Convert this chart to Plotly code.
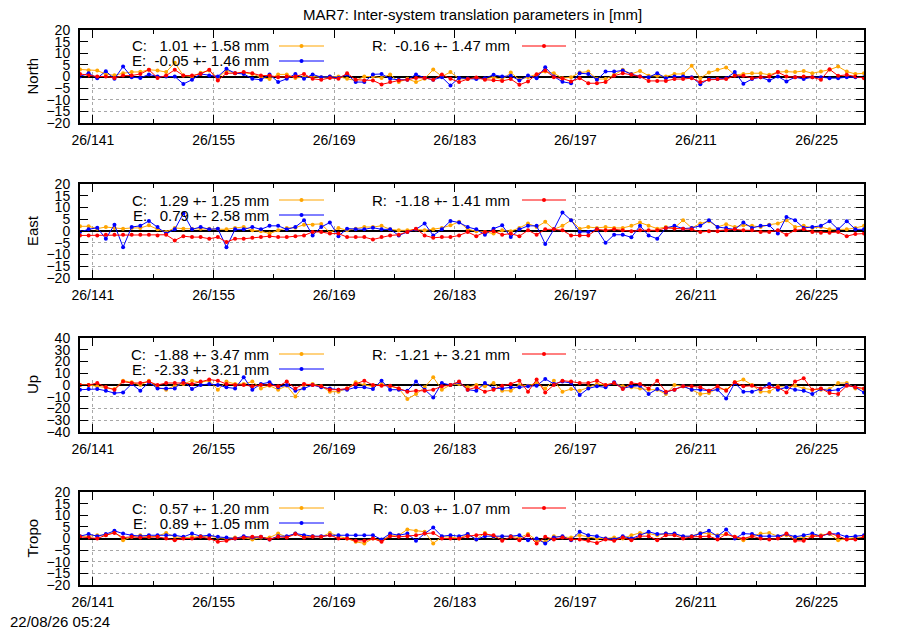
import plotly.graph_objects as go

# one epoch per day (noon), doy 139..230 of 2026
EPOCH = [d + 0.5 for d in range(139, 231)]
TICK_DOY = [141, 155, 169, 183, 197, 211, 225]
TICK_TEXT = ["26/141", "26/155", "26/169", "26/183", "26/197", "26/211", "26/225"]

PANELS = ["North", "East", "Up", "Tropo"]
YLIM = [20, 20, 40, 20]

# ---- translation parameters [mm] ----
NORTH_C = [3.0, 2.7, 2.6, 1.0, 0.5, 1.4, 1.9, 2.0, 2.9, 2.6, 1.9, 5.9, 0.4, 0.0, 1.6, 2.6, -0.6, 2.6, 1.4, 1.6,
           1.1, -0.3, -1.1, 0.9, 0.9, -0.6, -0.3, 0.0, -0.3, 0.0, 0.0, -1.0, -1.7, 0.0, 0.0, -0.6, 0.9, -2.4, -1.0, -2.4,
           -1.0, 3.0, 0.0, 1.9, -1.0,
           -1.1, -0.6, -1.1, -0.3, -1.4, 1.7, -1.4, -0.3, 0.7, 2.1, 1.4, -0.7, -0.3, 1.7, 2.1, -1.1, -1.1, 0.7, 2.9, 1.1,
           2.4, 0.3, 0.3, 0.0, 1.1, 1.1, 4.6, -0.7, 1.7, 2.9, 3.9, 0.7, 1.1, 1.4, 1.4, 0.7, 1.9, 2.1, 1.9, 2.4,
           1.4, 2.1, 2.9, 4.3, 2.1, 1.1, 1.4]
NORTH_E = [0.0, 1.4, -0.7, 2.3, -1.0, 4.3, -0.3, -0.6, 0.9, 0.0, 0.0, 0.0, -3.2, -1.4, 1.1, 0.4, 0.0, 3.3, 1.4, 1.1,
           -1.0, -1.4, 0.9, -2.4, -1.0, 1.1, -1.0, 0.9, -0.3, 0.0, -0.6, 0.9, -2.4, -2.4, 0.9, 1.1, -1.0, -1.4, -1.4, 0.9,
           -0.6, -1.4, -0.3, -3.9, -0.6,
           -0.9, -1.1, -0.7, 0.7, 0.0, 0.3, -1.7, 0.4, -0.7, 4.0, 0.0, -2.3, -2.9, 1.4, 1.1, -1.4, 2.1, 2.1, 2.6, 1.0,
           0.0, -0.3, 1.4, -0.7, 0.0, 0.0, -0.3, -3.3, -1.1, -1.1, -0.7, 1.9, -3.1, -1.1, -0.3, -1.7, 0.0, -2.1, -0.3, -1.1,
           -0.3, -0.3, -0.7, -0.7, -0.3, -0.3, -0.3]
NORTH_R = [1.1, 0.4, 0.0, 0.0, -0.6, 0.4, 0.4, 1.1, 2.9, -0.6, 0.4, 2.9, 0.4, 0.4, 1.1, 2.9, -1.7, 1.4, 1.4, 1.9,
           1.4, 0.4, 0.4, -0.3, 0.0, 0.0, 1.1, -1.0, -1.4, -0.6, -1.0, 1.4, -1.4, -1.7, -1.7, -3.4, -2.4, -1.7, -1.4, -0.6,
           -0.6, -1.4, 0.9, -1.0, -2.4,
           -1.1, -0.4, -1.4, -1.6, -1.9, -1.1, -3.6, -2.1, 1.0, 2.6, -0.3, -0.9, -2.1, -0.7, -2.9, -2.9, -2.4, 0.3, 1.4, 0.7,
           0.0, -1.9, -1.9, -1.9, -1.1, -1.1, -0.7, -2.4, -1.4, -1.1, -1.1, 0.3, 0.3, -0.7, -0.3, 0.0, 1.9, 0.0, -0.3, 0.0,
           -0.3, -1.4, 3.1, 0.3, 0.7, 0.0, -0.7]

EAST_C = [2.0, 2.0, 1.0, 1.7, 1.3, 1.0, 1.3, 1.3, 2.4, 0.7, -0.4, 1.3, 1.0, 1.0, 1.0, 1.0, 1.0, 0.7, 1.3, 1.7,
          0.3, -0.1, -1.1, 0.3, 1.3, 1.4, 2.7, 2.7, 3.0, -0.7, 1.3, 0.3, 1.0, 1.7, 1.7, 2.2, 0.7, 0.3, 0.3, 0.7,
          0.3, 0.7, 1.3, 2.4, 3.9,
          0.7, -0.1, -0.4, -1.1, 0.3, -0.1, 1.3, 3.2, 1.7, 3.9, 0.7, 2.2, 4.6, 1.0, 1.7, 1.3, 1.7, 1.3, 1.3, 2.2,
          3.6, 2.2, 1.0, 1.7, 1.3, 4.6, 1.3, 3.2, 4.2, 1.7, 2.9, 1.7, 2.4, 2.2, 1.7, 2.7, 3.2, 4.6, 1.7, 2.2,
          1.3, 1.7, 0.7, 0.7, 0.7, 1.3, 2.2]
EAST_E = [-0.4, 0.7, 1.4, -3.3, 2.7, -6.9, 1.7, 2.2, 4.3, 1.7, -1.1, 0.7, 7.5, 0.7, 1.7, 0.7, 1.0, -6.9, 0.7, 0.7,
          1.7, 0.7, 2.2, 2.2, 0.7, 1.7, 4.6, -1.9, 1.7, 3.6, -2.2, 1.0, 0.7, 0.7, 1.4, 0.7, 0.7, -1.9, -0.4, 0.7,
          3.2, -1.9, 0.7, 4.3, 3.6,
          1.7, 0.7, -1.6, 1.0, 2.4, -2.6, 0.7, 2.2, 2.2, -5.5, 0.7, 7.9, 4.6, -0.4, -0.4, 0.7, -5.0, -1.6, -1.6, -2.7,
          2.2, -1.9, -3.3, 1.3, 2.2, 1.0, 1.3, 2.2, 4.6, 1.7, 1.3, 0.7, 3.6, 1.3, 2.2, 2.4, -1.1, 6.0, 4.6, 1.3,
          1.7, 2.2, 4.2, 0.7, 4.2, 0.7, 0.7]
EAST_R = [-1.9, -1.9, -1.9, -1.6, -1.6, -1.6, -1.6, -1.6, -1.6, -1.9, -1.6, -4.0, -2.2, -2.6, -2.6, -3.3, -2.6, -4.7, -3.3, -3.3,
          -2.9, -2.6, -2.2, -2.6, -2.6, -2.2, -1.9, -0.4, -0.4, -1.1, -1.1, -2.6, -2.6, -2.6, -3.6, -2.6, -1.9, -1.6, -0.4, 1.0,
          -1.9, -2.9, -2.6, -2.6, -1.9,
          -0.4, -2.2, -0.4, -0.1, -1.6, -1.1, -2.2, 0.3, -1.6, 0.7, 0.7, 0.3, -1.9, -1.9, -1.9, 0.7, 0.3, 0.7, 0.3, -0.1,
          0.3, 0.3, 0.3, 1.3, 1.0, 1.0, 0.7, -0.4, -0.1, -0.1, 0.3, 0.7, 0.3, 0.3, -0.4, -0.4, 0.3, -1.6, 0.3, 0.7,
          -0.4, -0.7, -0.7, -0.4, -2.2, -1.3, -1.1]

UP_C = [0.0, 0.0, -1.1, -2.0, -3.4, 3.7, 2.3, 0.0, 3.7, -2.0, -4.0, -0.6, 0.9, 3.7, 2.3, 3.7, -4.0, 2.9, 0.9, 0.9,
        2.9, -2.9, -0.6, -4.0, -0.6, -9.7, 0.0, 0.9, -1.1, -5.7, -5.7, -2.9, 2.3, 0.0, -1.1, 0.9, -1.1, -2.9, -12.0, -7.7,
        -2.0, 6.6, -4.0, 0.0, 0.9,
        -2.0, 0.0, -1.1, 1.7, -4.9, -4.9, 0.0, -0.6, 1.7, -2.9, 3.7, -5.7, -3.4, -4.9, -2.0, 0.9, 0.0, 1.7, -1.1, -2.0,
        -2.9, -4.0, -4.0, -7.7, 0.0, -1.1, -4.0, -7.7, -6.9, -2.9, -4.0, 2.3, 4.6, 0.0, -5.7, -5.7, -1.1, -2.0, -0.6, -2.9,
        -4.0, -4.0, -3.4, 1.7, 1.7, -2.9, -3.4]
UP_E = [-4.0, -3.4, -3.4, -4.9, -6.9, -6.3, 0.9, -4.9, 2.3, -2.9, -2.9, -2.9, 3.7, -3.4, 0.0, 0.9, 0.0, -2.0, -2.9, 6.6,
        -4.0, 0.9, 2.3, -2.0, 0.0, -4.9, -2.9, 0.0, -2.0, -2.9, -4.0, -4.0, -2.0, -2.0, -3.4, 3.7, -4.0, -4.0, -4.9, 2.9,
        -4.0, -10.6, 1.7, 0.0, 2.3,
        -4.0, -4.9, 1.7, -2.9, -2.9, -2.0, -2.0, -1.1, -0.6, 5.2, 0.9, 2.9, 1.7, -8.6, -2.9, -1.1, -2.0, 2.3, -2.9, -1.1,
        -0.6, -7.7, -3.4, -6.3, -4.0, -1.1, -4.0, -4.0, -4.9, -4.0, -11.5, 1.7, -5.7, -5.7, -3.4, 0.9, -4.0, -2.0, -4.0, -4.9,
        -7.7, -3.4, -4.9, -4.0, 0.0, -2.0, -6.3]
UP_R = [0.0, 0.0, 1.7, -2.0, -4.0, 2.9, 1.7, 1.7, 2.9, 0.0, 1.7, 1.7, 1.7, 0.9, 2.9, 4.6, 3.7, 0.9, 0.0, 0.0,
        -1.1, 0.0, 0.0, -1.1, 2.9, -2.9, 0.9, 0.0, -1.1, -4.0, -4.0, -2.9, 0.9, 3.7, 0.0, -0.6, -0.6, -2.9, -5.7, -4.9,
        -4.9, -4.0, -1.1, 0.0, 2.9,
        -4.0, -2.0, -5.7, -4.0, -0.6, 0.9, 3.7, -5.7, 4.6, -6.3, 0.0, 3.7, 2.9, 1.7, 1.7, 3.7, 0.0, 1.7, -3.4, 1.7,
        0.9, -2.9, 3.7, -5.7, -4.0, -1.1, -1.1, -2.0, -4.9, -1.1, -4.9, 2.3, -1.1, -0.6, -2.9, -2.0, -2.0, -6.3, 2.9, 5.7,
        -4.0, -2.9, -6.9, -7.7, -0.6, -2.0, -2.9]

TROPO_C = [1.0, 1.0, 1.4, 1.4, 2.9, -0.7, 0.7, 1.4, 0.7, 1.0, 2.4, 0.7, 0.4, 0.7, 1.0, 1.0, 0.4, 0.0, 0.4, 0.4,
           -0.4, 0.4, 0.4, 2.1, 0.7, 2.1, 0.7, 1.0, 0.7, 2.4, 1.0, 0.0, -1.4, -2.1, 0.0, -1.0, 1.4, 1.4, 3.9, 3.3,
           2.9, -2.1, 0.7, 0.7, 0.0,
           1.9, -0.4, 2.4, 0.7, 0.7, 1.0, 0.4, 1.9, -0.7, -1.4, 1.0, 0.7, 0.4, 1.4, 0.7, 0.0, 0.0, 0.4, 0.0, 1.4,
           2.4, 2.1, 1.4, 2.1, 1.9, 0.7, 1.0, 2.4, 2.1, 1.4, 1.9, 0.7, -0.7, 1.0, 2.1, 2.4, 1.0, 1.4, 0.4, 0.7,
           1.0, 1.4, 1.9, -0.7, 0.0, 0.4, 0.7]
TROPO_E = [1.0, 1.9, 1.0, 1.9, 3.3, 2.1, 1.4, 1.0, 1.4, 1.4, 1.4, 1.4, 0.7, 2.1, 1.0, 1.4, 0.7, 0.4, 0.0, 1.0,
           0.4, 0.7, -0.4, 1.0, 1.0, 2.1, 1.4, 1.0, 1.0, 1.4, 1.4, 1.4, 1.4, 1.4, 1.4, -0.4, 2.1, 1.4, 2.1, -1.0,
           2.1, 4.7, 1.0, 1.4, 1.0,
           1.9, -0.4, 1.0, 1.0, 1.0, 1.0, 1.4, -0.7, 0.0, -2.1, 0.4, 1.0, -0.7, 2.9, 1.4, 1.0, 0.0, -0.4, 1.0, 0.0,
           1.4, 2.9, 1.9, 2.1, 2.1, 1.0, 1.0, 2.1, 3.3, 1.0, 3.9, 0.0, 2.1, 1.9, 1.0, 1.0, 1.0, 1.9, 0.7, 1.4,
           2.1, 1.0, 2.1, 1.9, 0.7, 1.0, 1.4]
TROPO_R = [0.7, 0.4, 0.0, 1.4, 2.4, 0.4, 0.7, 0.4, 0.7, 0.7, 0.0, -0.7, 0.0, 0.0, 0.7, 0.0, -1.4, -1.0, 0.0, 0.4,
           0.7, 0.7, -0.4, 0.7, 0.4, 1.9, 0.4, 0.7, 0.7, 1.4, 0.0, 0.0, -1.0, -1.0, 0.0, -1.4, 1.0, 0.7, 1.0, 1.4,
           2.1, 2.4, 0.0, 0.0, 0.0,
           1.0, 1.4, 1.9, 1.4, -1.0, 0.7, -0.7, 1.4, -2.1, 0.7, -0.4, 0.4, -0.4, -0.4, -1.0, -1.9, -0.4, -1.0, 0.4, -0.7,
           1.0, 1.0, -0.7, 1.4, 1.4, 0.0, 0.7, 0.7, 1.0, -0.4, 1.9, 0.7, 0.0, 1.0, 0.0, -0.4, 0.0, 2.1, -1.0, -1.0,
           1.0, 1.0, 2.4, 1.0, -0.4, -0.4, 0.7]

# mean / rms shown in the keys
NORTH_STATS = [("C", 1.01, 1.58), ("E", -0.05, 1.46), ("R", -0.16, 1.47)]
EAST_STATS = [("C", 1.29, 1.25), ("E", 0.79, 2.58), ("R", -1.18, 1.41)]
UP_STATS = [("C", -1.88, 3.47), ("E", -2.33, 3.21), ("R", -1.21, 3.21)]
TROPO_STATS = [("C", 0.57, 1.20), ("E", 0.89, 1.05), ("R", 0.03, 1.07)]

SERIES = {
    "North": (NORTH_C, NORTH_E, NORTH_R, NORTH_STATS),
    "East": (EAST_C, EAST_E, EAST_R, EAST_STATS),
    "Up": (UP_C, UP_E, UP_R, UP_STATS),
    "Tropo": (TROPO_C, TROPO_E, TROPO_R, TROPO_STATS),
}
COLORS = {"C": "#ffa500", "E": "#0000ff", "R": "#ff0000"}

W, H = 900, 630
PX_L, PX_R = 80, 864            # plot area in pixels
PANEL_TOP = [30, 184, 338, 492]
PANEL_BOT = [123, 278, 432, 585]
FONT = "Liberation Sans, Arial, sans-serif"


def px(x):
    return (x - PX_L) / (PX_R - PX_L)


def py(y):
    return 1 - y / H


fig = go.Figure()
shapes = []
annotations = []

for i, name in enumerate(PANELS):
    sfx = "" if i == 0 else str(i + 1)
    c, e, r, stats = SERIES[name]
    for key, vals in (("C", c), ("E", e), ("R", r)):
        fig.add_trace(go.Scatter(
            x=EPOCH, y=vals, mode="lines+markers", showlegend=False,
            line=dict(color=COLORS[key], width=1),
            marker=dict(color=COLORS[key], size=4),
            xaxis="x" + sfx, yaxis="y" + sfx, hoverinfo="skip"))

    lim = YLIM[i]
    axis_common = dict(showline=True, mirror="ticks", linecolor="black", linewidth=2,
                       ticks="inside", tickcolor="black", tickwidth=1, ticklen=8,
                       showgrid=True, gridcolor="#a8a8a8", griddash="dot", gridwidth=1,
                       tickfont=dict(family=FONT, size=14, color="black"), automargin=False)
    fig.update_layout({
        "xaxis" + sfx: dict(axis_common, domain=[0, 1], anchor="y" + sfx,
                            range=[EPOCH[0], EPOCH[-1]], tickvals=TICK_DOY, ticktext=TICK_TEXT,
                            zeroline=False, ticklabelstandoff=3,
                            minor=dict(tick0=141, dtick=7, ticks="inside", ticklen=4,
                                       tickcolor="black", showgrid=False)),
        "yaxis" + sfx: dict(axis_common, domain=[py(PANEL_BOT[i]), py(PANEL_TOP[i])],
                            anchor="x" + sfx, range=[-lim, lim], dtick=lim / 4,
                            zeroline=True, zerolinecolor="black", zerolinewidth=2,
                            ticklabelstandoff=5),
    })

    # key area hides the grid behind it
    shapes.append(dict(type="rect", xref="x" + sfx, yref="y" + sfx, x0=EPOCH[0], x1=196.6,
                       y0=lim * 0.13, y1=lim, fillcolor="white", line=dict(width=0), layer="between"))

    # panel label
    annotations.append(dict(text=name, x=px(32), y=py((PANEL_TOP[i] + PANEL_BOT[i]) / 2),
                            xref="paper", yref="paper", textangle=-90, showarrow=False,
                            xanchor="center", yanchor="middle",
                            font=dict(family=FONT, size=15, color="black")))

    # key entries: C and E in the first column, R in the second
    rows = {"C": (271, 279, 324, 16), "E": (271, 279, 324, 31), "R": (512, 522, 566, 16)}
    for key, mean, rms in stats:
        tx, l0, l1, dy = rows[key]
        yy = PANEL_TOP[i] + dy
        label = f"{key}: {mean:6.2f} +- {rms:.2f} mm".replace(" ", "\u00a0")
        annotations.append(dict(text=label, x=px(tx), y=py(yy), xref="paper", yref="paper",
                                xanchor="right", yanchor="middle", showarrow=False,
                                font=dict(family=FONT, size=15, color="black")))
        shapes.append(dict(type="line", xref="paper", yref="paper", x0=px(l0), x1=px(l1),
                           y0=py(yy), y1=py(yy), line=dict(color=COLORS[key], width=1)))
        mx = (l0 + l1) / 2
        shapes.append(dict(type="circle", xref="paper", yref="paper",
                           x0=px(mx - 2), x1=px(mx + 2), y0=py(yy + 2), y1=py(yy - 2),
                           fillcolor=COLORS[key], line=dict(color=COLORS[key], width=0)))

annotations.append(dict(text="MAR7: Inter-system translation parameters in [mm]",
                        x=px(472), y=py(14), xref="paper", yref="paper", showarrow=False,
                        xanchor="center", yanchor="middle",
                        font=dict(family=FONT, size=15, color="black")))
annotations.append(dict(text="22/08/26 05:24", x=px(8), y=py(621), xref="paper", yref="paper",
                        showarrow=False, xanchor="left", yanchor="middle",
                        font=dict(family=FONT, size=15, color="black")))

fig.update_layout(width=W, height=H,
                  margin=dict(l=PX_L, r=W - PX_R, t=0, b=0),
                  paper_bgcolor="white", plot_bgcolor="white",
                  shapes=shapes, annotations=annotations, showlegend=False)

# drop the page's default body margin so the figure sits at the window corner
fig.write_html("out.html", config={"displayModeBar": False},
               post_script="document.body.style.margin='0';")
